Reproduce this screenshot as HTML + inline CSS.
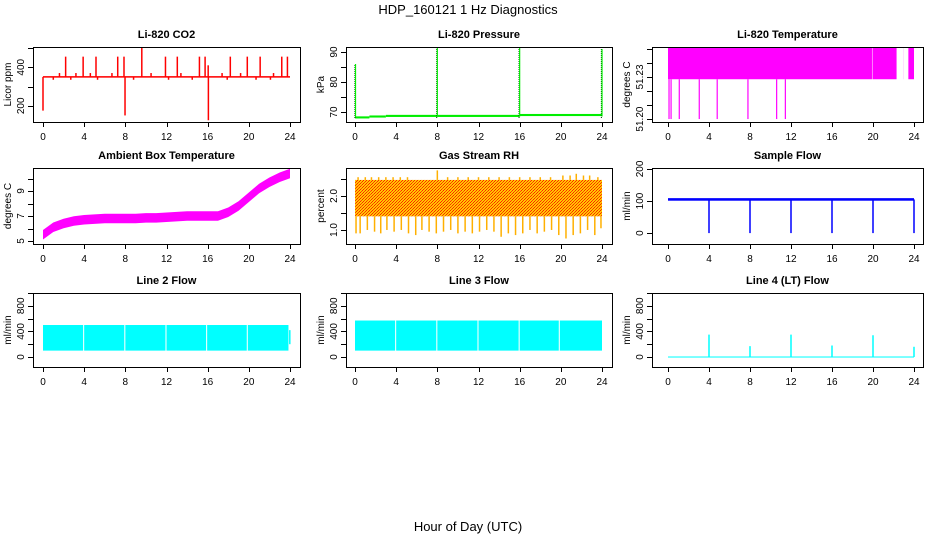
<!DOCTYPE html>
<html><head><meta charset="utf-8"><style>
html,body{margin:0;padding:0;background:#fff;}
svg{display:block;font-family:"Liberation Sans",sans-serif;}
</style></head><body>
<svg id="c" width="936" height="540" viewBox="0 0 936 540" xmlns="http://www.w3.org/2000/svg">
<defs><pattern id="rhpat" width="3" height="3" patternUnits="userSpaceOnUse"><rect width="3" height="3" fill="#ffc800"/><rect width="1" height="1" fill="#ff2000"/><rect x="2" y="1" width="1" height="1" fill="#ff2000"/><rect x="1" y="2" width="1" height="1" fill="#ff4000"/></pattern></defs>
<text x="468" y="14" font-size="13" text-anchor="middle">HDP_160121  1 Hz Diagnostics</text>
<text x="468" y="531" font-size="13" text-anchor="middle">Hour of Day (UTC)</text>
</svg>
<script>
// x ticks
const xTicks=[0,4,8,12,16,20,24];
// CO2
const co2Base=350;
const co2SpikeHours=[2.2,3.9,5.15,7.26,7.87,9.6,11.9,13.05,15.2,15.75,16.05,18.2,19.85,21.1,23.2,23.75,0.0,7.97,16.07,1.6,3.2,4.6,6.7,10.5,13.4,17.4,19.2,22.4,1.0,2.7,5.3,8.8,12.2,14.5,17.9,20.7,22.1];
const co2SpikeVals=[455,455,455,455,455,505,455,455,455,455,410,455,455,455,455,455,175,150,125,370,370,370,370,370,370,370,370,370,335,335,335,335,335,335,335,335,335];
// Pressure
const presSegStart=[0,1.4,3,16];
const presSegEnd=[1.4,3,16,24];
const presSegVal=[68.2,68.5,68.7,69.0];
const presSpikeHours=[0.05,8,16,24];
const presSpikeVals=[86,91.5,92,91];
// Li-820 temperature
const tempBandLow=51.2284, tempBandHigh=51.2514;
const tempGapHours=[19.9,22.3,23.0];
const tempGapEnds=[19.95,23.0,23.45];
const tempDropHours=[0.1,0.3,1.1,3.05,4.8,7.8,10.6,11.45];
const tempDropVals=[51.2,51.2,51.2,51.2,51.2,51.2,51.2,51.2];
// Ambient box temperature
const ambHours=[0,1,2,3,4,5,6,7,8,9,10,11,12,13,14,15,16,17,18,19,20,21,22,23,24];
const ambMid=[5.5,6.1,6.4,6.6,6.7,6.75,6.8,6.8,6.8,6.8,6.85,6.85,6.9,6.95,7.0,7.0,7.0,7.0,7.3,7.8,8.5,9.2,9.7,10.1,10.4];
const ambHalfWidth=0.38;
// Gas stream RH
const rhLow=1.4, rhHigh=2.47;
const rhDropHours=[0.1,0.5,1.2,1.9,2.5,3.1,3.8,4.5,5.2,5.9,6.5,7.2,7.9,8.6,9.3,10.0,10.7,11.4,12.1,12.8,13.5,14.2,14.9,15.6,16.3,17.0,17.7,18.4,19.1,19.8,20.5,21.2,21.9,22.6,23.3,23.9];
const rhDropVals=[0.9,0.9,1.0,0.95,0.9,1.0,0.95,1.0,0.9,0.85,1.0,0.95,0.9,0.95,1.0,0.9,0.95,0.9,0.95,1.0,0.95,0.8,0.9,0.85,0.9,1.0,0.9,0.95,1.0,0.85,0.75,0.85,0.9,1.0,0.85,1.05];
const rhTopVals=[2.55,2.55,2.55,2.55,2.55,2.55,2.55,2.55,2.75,2.55,2.55,2.55,2.55,2.55,2.55,2.55,2.55,2.55,2.55,2.55,2.6,2.6,2.65,2.6,2.6,2.55];
const rhTopHours=[0.3,1.0,1.6,2.3,3.0,3.7,4.4,5.1,8.0,9.0,10.0,11.0,12.0,13.0,14.0,15.0,16.0,17.0,18.0,19.0,20.2,20.9,21.5,22.2,22.8,23.6];
// Sample flow
const sfBase=105;
const sfDipHours=[4,8,12,16,20,24];
const sfDipVals=[0,0,0,0,0,0];
// Line 2 / 3 flows
const l2Low=100,l2High=500,l2End=23.85;
const l2GapHours=[3.9,7.9,11.9,15.85,19.8];
const l3Low=100,l3High=570,l3End=24;
const l3GapHours=[3.9,7.9,11.9,15.9,19.8];
// Line 4 flow
const l4Base=0;
const l4SpikeHours=[4,8,12,16,20,24];
const l4SpikeVals=[350,170,350,180,340,160];

const svg=document.getElementById('c');
const NS='http://www.w3.org/2000/svg';
function el(tag,attrs,parent){const e=document.createElementNS(NS,tag);for(const k in attrs)e.setAttribute(k,attrs[k]);(parent||svg).appendChild(e);return e;}
const cols=[{bx0:33,bx1:300,h0:43,h1:290},{bx0:346,bx1:612,h0:355,h1:602},{bx0:652,bx1:923,h0:668,h1:914}];
const rows=[{top:47,bot:122},{top:168,bot:244},{top:293,bot:367}];

function panel(name,ci,ri,title,ylab,vBot,vTop,yTicks,yLabels,fmt){
  const c=cols[ci],r=rows[ri];
  const g=el('g',{});
  
  
  const X=h=>c.h0+(c.h1-c.h0)*h/24;
  const Y=v=>r.bot-(v-vBot)/(vTop-vBot)*(r.bot-r.top);
  const t=el('text',{x:(c.bx0+c.bx1)/2,y:r.top-9,'font-size':11,'font-weight':'bold','text-anchor':'middle'},g);
  t.textContent=title;
  
  
  const ax=el('g',{stroke:'#000','stroke-width':1},g);
  
  
  el('line',{x1:X(0),x2:X(24),y1:r.bot+0.5,y2:r.bot+0.5},ax);
  xTicks.forEach(h=>{
    el('line',{x1:Math.round(X(h))+0.5,x2:Math.round(X(h))+0.5,y1:r.bot,y2:r.bot+5},ax);
    const tl=el('text',{x:X(h),y:r.bot+18,'font-size':10,'text-anchor':'middle',stroke:'none'},g);
    tl.textContent=h;
    
    
  });
  const ay=el('g',{stroke:'#000','stroke-width':1},g);
  
  
  el('line',{x1:c.bx0+0.5,x2:c.bx0+0.5,y1:Y(yTicks[0]),y2:Y(yTicks[yTicks.length-1])},ay);
  yTicks.forEach(v=>{
    el('line',{x1:c.bx0-5,x2:c.bx0,y1:Math.round(Y(v))+0.5,y2:Math.round(Y(v))+0.5},ay);
  });
  yLabels.forEach(v=>{
    const x=c.bx0-9,y=Y(v);
    const tl=el('text',{x:x,y:y,'font-size':10,'text-anchor':'middle',transform:`rotate(-90 ${x} ${y})`},g);
    tl.textContent=fmt?fmt(v):v;
    
    
  });
  const yl=el('text',{x:c.bx0-22,y:(r.top+r.bot)/2,'font-size':10,'text-anchor':'middle',transform:`rotate(-90 ${c.bx0-22} ${(r.top+r.bot)/2})`},g);
  yl.textContent=ylab;
  
  
  const data=el('g',{},g);
  
  
  const clip=el('clipPath',{id:'cl'+name},g);
  el('rect',{x:c.bx0,y:r.top,width:c.bx1-c.bx0,height:r.bot-r.top},clip);
  data.setAttribute('clip-path','url(#cl'+name+')');
  const box=el('rect',{x:c.bx0+0.5,y:r.top+0.5,width:c.bx1-c.bx0,height:r.bot-r.top,fill:'none',stroke:'#000'},g);
  
  
  return {X,Y,g:data};
}
function vline(p,h,v1,v2,color,w,name){const l=el('line',{x1:p.X(h),x2:p.X(h),y1:p.Y(v1),y2:p.Y(v2),stroke:color,'stroke-width':w||1.5},p.g);
  
  return l;}
function band(p,h1,h2,lo,hi,fill,name){const r=el('rect',{x:p.X(h1),y:p.Y(hi),width:p.X(h2)-p.X(h1),height:p.Y(lo)-p.Y(hi),fill:fill},p.g);
  
  return r;}

// CO2
let p=panel('co2',0,0,'Li-820 CO2','Licor ppm',116,505,[200,300,400,500],[200,400]);
co2SpikeHours.forEach((h,i)=>vline(p,h,co2Base,co2SpikeVals[i],'#ff0000',1.5,'co2-spike'));
band(p,0,24,co2Base-4,co2Base+4,'#ff0000','co2-baseline');
// Pressure
p=panel('pressure',1,0,'Li-820 Pressure','kPa',66.67,91.67,[70,75,80,85,90],[70,80,90]);
presSegStart.forEach((s,i)=>band(p,s,presSegEnd[i],presSegVal[i]-0.35,presSegVal[i]+0.35,'#00ee00','pressure-baseline'));
presSpikeHours.forEach((h,i)=>{
  const l=vline(p,h-0.06,68,presSpikeVals[i],'#003300',1,'pressure-spike-dotted');l.setAttribute('stroke-dasharray','1 1');
  vline(p,h,68.5,presSpikeVals[i],'#00ee00',1.2,'pressure-spike');});
// Li-820 Temperature
p=panel('li820temp',2,0,'Li-820 Temperature','degrees C',51.1979,51.2514,[51.20,51.21,51.22,51.23,51.24,51.25],[51.20,51.23],v=>v.toFixed(2));
band(p,0,24,tempBandLow,tempBandHigh,'#ff00ff','li820temp-band');
tempGapHours.forEach((h,i)=>band(p,h,tempGapEnds[i],tempBandLow-0.001,tempBandHigh+0.001,'#ffffff','li820temp-gap'));
tempDropHours.forEach((h,i)=>vline(p,h,tempBandLow,tempDropVals[i],'#ff00ff',1.2,'li820temp-drop'));
// Ambient
p=panel('ambient',0,1,'Ambient Box Temperature','degrees C',4.76,10.84,[5,6,7,8,9,10],[5,7,9]);
const pts=ambHours.map((h,i)=>p.X(h)+','+p.Y(ambMid[i]+ambHalfWidth)).concat(ambHours.slice().reverse().map((h,j)=>{const i=ambHours.length-1-j;return p.X(h)+','+p.Y(ambMid[i]-ambHalfWidth);}));
const ap=el('polygon',{points:pts.join(' '),fill:'#ff00ff'},p.g);


// RH
p=panel('rh',1,1,'Gas Stream RH','percent',0.588,2.82,[1.0,1.5,2.0,2.5],[1.0,2.0],v=>v.toFixed(1));
band(p,0,24,rhLow,rhHigh,'url(#rhpat)','rh-band');
rhDropHours.forEach((h,i)=>vline(p,h,rhLow,rhDropVals[i],'#ffb000',1.5,'rh-drop'));
rhTopHours.forEach((h,i)=>vline(p,h,rhHigh,rhTopVals[i],'#ffb000',1.5,'rh-peak'));
// Sample flow
p=panel('sampleflow',2,1,'Sample Flow','ml/min',-34,203,[0,100,200],[0,100,200]);
band(p,0,24,sfBase-4,sfBase+4,'#0000ff','sampleflow-baseline');
sfDipHours.forEach((h,i)=>vline(p,h,sfBase,sfDipVals[i],'#0000ff',1.5,'sampleflow-dip'));
// Line 2
p=panel('line2',0,2,'Line 2 Flow','ml/min',-156,1000,[0,200,400,600,800,1000],[0,400,800]);
band(p,0,l2End,l2Low,l2High,'#00ffff','line2-band');
l2GapHours.forEach(h=>band(p,h,h+0.1,l2Low-5,l2High+5,'#ffffff','line2-gap'));
vline(p,23.98,200,420,'#00ffff',1.5,'line2-tail');
// Line 3
p=panel('line3',1,2,'Line 3 Flow','ml/min',-156,1000,[0,200,400,600,800,1000],[0,400,800]);
band(p,0,l3End,l3Low,l3High,'#00ffff','line3-band');
l3GapHours.forEach(h=>band(p,h,h+0.1,l3Low-5,l3High+5,'#ffffff','line3-gap'));
// Line 4
p=panel('line4',2,2,'Line 4 (LT) Flow','ml/min',-156,1000,[0,200,400,600,800,1000],[0,400,800]);
band(p,0,24,l4Base-8,l4Base+8,'#00ffff','line4-baseline');
l4SpikeHours.forEach((h,i)=>vline(p,h,l4Base,l4SpikeVals[i],'#00ffff',1.5,'line4-spike'));
</script>
</body></html>
